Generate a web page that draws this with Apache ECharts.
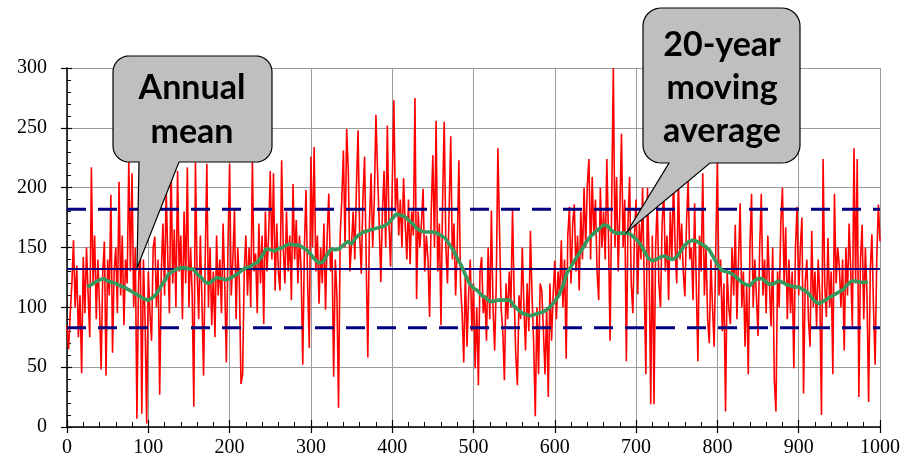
<!DOCTYPE html>
<html>
<head>
<meta charset="utf-8">
<script src="https://cdn.jsdelivr.net/npm/echarts@6/dist/echarts.min.js"></script>
<style>
  html, body { margin: 0; padding: 0; background: #fff; }
  #chart { width: 903px; height: 474px; }
</style>
</head>
<body>
<div id="chart"></div>
<script>
// Annual values, one every 2 years from year 0 to 1000
const annualStep = 2;
const annualValues = [
  85,65,95,120,156,100,135,75,110,45,
  142,95,150,110,75,217,120,160,90,140,
  100,48,130,155,43,140,110,194,62,130,
  150,95,205,110,160,85,140,120,223,130,
  212,100,150,7,120,160,11,140,90,3,
  130,95,72,150,159,100,140,27,130,170,
  110,200,140,95,223,120,165,100,214,130,
  160,90,180,120,217,100,150,110,17,221,
  130,90,160,105,43,140,220,100,150,85,
  130,75,160,110,140,95,170,120,54,150,
  220,110,140,181,90,150,120,36,44,130,
  160,110,150,100,223,130,145,95,170,120,
  160,86,180,130,160,214,140,212,114,170,
  130,114,223,150,120,180,130,160,106,203,
  140,173,120,160,130,52,150,198,120,66,
  226,150,234,130,160,103,150,120,170,98,
  160,195,130,150,42,140,110,16,160,190,
  231,150,249,214,130,153,180,140,200,248,
  160,128,190,226,140,58,170,212,150,190,
  261,212,170,121,180,214,150,252,170,134,
  200,273,180,208,160,190,150,208,170,140,
  190,136,180,160,275,107,180,150,170,199,
  130,160,140,92,180,227,150,256,130,170,
  85,190,255,150,120,180,243,140,170,110,
  150,223,120,95,54,130,67,110,140,80,
  120,49,100,35,130,142,95,110,72,150,
  90,181,100,64,120,233,164,100,80,39,
  120,90,130,100,182,110,60,35,110,90,
  150,100,64,120,80,164,110,70,9,100,
  44,120,114,80,44,100,25,120,72,110,
  139,90,130,110,156,100,140,57,160,184,
  120,170,186,130,160,114,180,140,200,150,
  202,224,140,209,160,190,130,106,200,150,
  180,140,224,160,72,190,300,150,209,130,
  180,245,150,190,55,170,209,120,95,160,
  190,111,170,140,200,120,44,200,140,19,
  160,19,150,189,120,100,170,198,130,160,
  106,180,140,209,150,120,209,140,170,130,
  109,170,206,140,150,106,187,120,55,160,
  130,212,110,150,90,70,140,100,67,150,
  223,110,140,80,120,13,130,100,86,150,
  110,169,90,140,187,100,130,67,120,44,
  150,195,100,140,110,76,150,195,110,140,
  95,160,120,84,150,39,13,130,100,170,
  200,120,167,90,140,95,130,49,150,184,
  110,150,175,28,120,140,90,67,164,100,
  130,84,140,110,10,224,120,92,158,100,
  130,44,195,120,150,134,100,140,64,150,
  110,170,130,84,233,120,224,25,140,169,
  90,150,110,21,130,161,100,52,140,186,
  155
];

// 20-year moving average, read every 5 years from year 25 to 975
const avgStart = 25;
const avgStep = 5;
const movingAverage = [
  117,119,121,123,124,122,121,120,118,117,
  115,113,111,109,107,106,108,111,117,122,
  128,130,132,133,133,132,132,128,125,121,
  120,123,125,124,123,124,126,128,131,133,
  134,136,138,143,149,148,147,149,150,152,
  153,152,152,150,148,144,140,137,138,144,
  149,148,149,152,155,153,158,161,163,164,
  165,166,167,168,170,174,178,177,176,173,
  170,166,164,163,163,163,162,160,158,153,
  148,141,135,127,120,116,114,110,108,105,
  105,106,106,106,106,101,98,95,94,93,
  94,95,96,98,101,105,110,118,129,134,
  140,145,150,156,160,163,166,169,168,164,
  162,162,162,162,160,157,153,147,141,139,
  140,142,143,141,140,142,147,152,155,156,
  155,153,151,148,142,136,131,130,129,127,
  124,121,119,118,122,124,124,121,119,120,
  122,121,119,118,117,117,115,113,109,105,
  103,105,107,109,111,113,115,119,122,122,
  121,121,121
];

const meanLevel = 132;
const upperLevel = 182;
const lowerLevel = 83;

const xTicks = { min: 0, max: 1000, interval: 100 };
const yTicks = { min: 0, max: 300, interval: 50 };

const annualData = annualValues.map((v, i) => [i * annualStep, v]);
const avgData = movingAverage.map((v, i) => [avgStart + i * avgStep, v]);
const levelLine = (y) => [[xTicks.min, y], [xTicks.max, y]];

const labelFont = { fontFamily: 'Liberation Serif', fontSize: 20, color: '#000' };
const navy = '#000080';

// speech-bubble outline: rounded box plus a pointer on its bottom edge
function bubble(L, T, R, B, r, baseL, baseR, tip) {
  const pts = [];
  const arc = (cx, cy, a0, a1) => {
    const n = 10;
    for (let k = 0; k <= n; k++) {
      const a = a0 + (a1 - a0) * k / n;
      pts.push([cx + r * Math.cos(a), cy + r * Math.sin(a)]);
    }
  };
  arc(L + r, T + r, Math.PI, 1.5 * Math.PI);
  arc(R - r, T + r, 1.5 * Math.PI, 2 * Math.PI);
  arc(R - r, B - r, 0, 0.5 * Math.PI);
  pts.push([baseR, B]);
  pts.push(tip);
  pts.push([baseL, B]);
  arc(L + r, B - r, 0.5 * Math.PI, Math.PI);
  return pts;
}

const chart = echarts.init(document.getElementById('chart'), null, { renderer: 'canvas' });

const calloutStyle = { fill: '#bfbfbf', stroke: '#000', lineWidth: 1.2 };
const calloutText = { fontFamily: 'Lato', fontWeight: 'bold', fontSize: 34, fill: '#000', align: 'center', verticalAlign: 'middle' };

chart.setOption({
  animation: false,
  backgroundColor: '#fff',
  grid: { left: 67, right: 23, top: 68, bottom: 47, containLabel: false },
  xAxis: [
    {
      type: 'value', min: xTicks.min, max: xTicks.max, interval: xTicks.interval,
      axisLine: { show: true, onZero: false, lineStyle: { color: '#000', width: 1.5 } },
      axisTick: { show: true, inside: true, length: 7, lineStyle: { color: '#000', width: 1.2 } },
      minorTick: { show: true, splitNumber: 5, length: 5, lineStyle: { color: '#000', width: 1 } },
      axisLabel: Object.assign({ margin: 11, formatter: (v) => String(v) }, labelFont),
      splitLine: { show: true, lineStyle: { color: '#9a9a9a', width: 1 } }
    },
    {
      type: 'value', min: xTicks.min, max: xTicks.max, interval: xTicks.interval, position: 'bottom',
      axisLine: { show: false, onZero: false },
      axisTick: { show: true, inside: false, length: 6, lineStyle: { color: '#000', width: 1.2 } },
      axisLabel: { show: false }, splitLine: { show: false }
    }
  ],
  yAxis: [
    {
      type: 'value', min: yTicks.min, max: yTicks.max, interval: yTicks.interval,
      axisLine: { show: true, onZero: false, lineStyle: { color: '#000', width: 1.5 } },
      axisTick: { show: true, inside: true, length: 5, lineStyle: { color: '#000', width: 1.2 } },
      minorTick: { show: true, splitNumber: 5, length: 4, lineStyle: { color: '#000', width: 1 } },
      axisLabel: Object.assign({ margin: 20 }, labelFont),
      splitLine: { show: true, lineStyle: { color: '#9a9a9a', width: 1 } }
    },
    {
      type: 'value', min: yTicks.min, max: yTicks.max, interval: yTicks.interval, position: 'left',
      axisLine: { show: false, onZero: false },
      axisTick: { show: true, inside: false, length: 6, lineStyle: { color: '#000', width: 1.2 } },
      axisLabel: { show: false }, splitLine: { show: false }
    }
  ],
  series: [
    {
      type: 'line', name: 'Annual', data: annualData, showSymbol: false, symbol: 'none',
      lineStyle: { color: '#ff0000', width: 1.6 }, z: 2
    },
    {
      type: 'line', data: levelLine(meanLevel), showSymbol: false, symbol: 'none', silent: true,
      lineStyle: { color: navy, width: 2 }, z: 3
    },
    {
      type: 'line', data: levelLine(upperLevel), showSymbol: false, symbol: 'none', silent: true,
      lineStyle: { color: navy, width: 3, type: [19, 12] }, z: 3
    },
    {
      type: 'line', data: levelLine(lowerLevel), showSymbol: false, symbol: 'none', silent: true,
      lineStyle: { color: navy, width: 3, type: [19, 12] }, z: 3
    },
    {
      type: 'line', name: 'Moving average', data: avgData, showSymbol: false, symbol: 'none',
      lineStyle: { color: '#35985c', width: 3.6 }, z: 4
    }
  ],
  graphic: [
    {
      type: 'polygon', z: 100,
      shape: { points: bubble(113, 56, 272, 162, 16, 139, 179, [137, 268]) },
      style: calloutStyle
    },
    { type: 'text', z: 101, x: 192, y: 88, style: Object.assign({ text: 'Annual' }, calloutText) },
    { type: 'text', z: 101, x: 192, y: 132, style: Object.assign({ text: 'mean' }, calloutText) },
    {
      type: 'polygon', z: 100,
      shape: { points: bubble(643, 8, 800, 163, 18, 669, 710, [627, 232]) },
      style: calloutStyle
    },
    { type: 'text', z: 101, x: 722, y: 45, style: Object.assign({ text: '20-year' }, calloutText) },
    { type: 'text', z: 101, x: 722, y: 88, style: Object.assign({ text: 'moving' }, calloutText) },
    { type: 'text', z: 101, x: 722, y: 131, style: Object.assign({ text: 'average' }, calloutText) }
  ]
});
</script>
</body>
</html>
